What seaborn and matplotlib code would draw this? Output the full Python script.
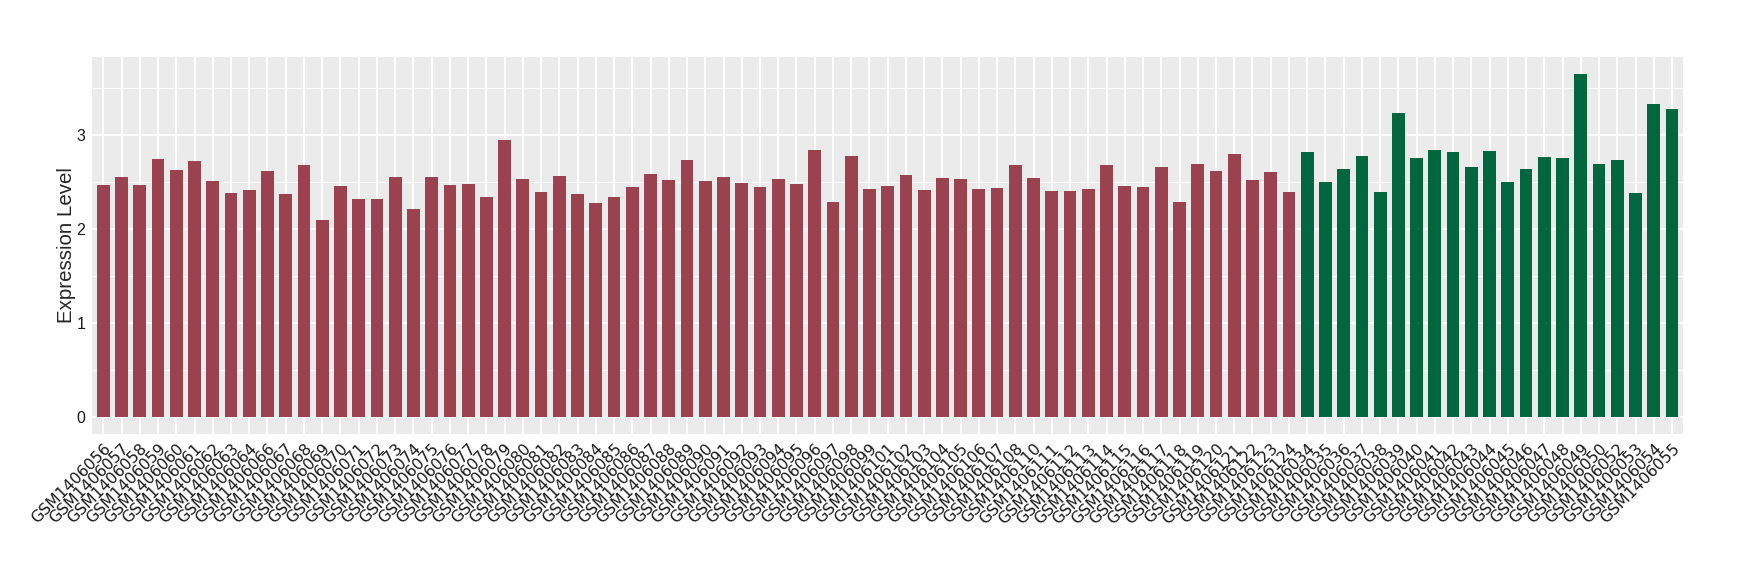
import numpy as np
import pandas as pd
import matplotlib
matplotlib.use('Agg')
import matplotlib.pyplot as plt
import seaborn as sns
from matplotlib.ticker import MultipleLocator

# sample ids, in plotting order
red_ids = ['056', '057', '058', '059', '060', '061', '062', '063', '064', '066',
           '067', '068', '069', '070', '071', '072', '073', '074', '075', '076',
           '077', '078', '079', '080', '081', '082', '083', '084', '085', '086',
           '087', '088', '089', '090', '091', '092', '093', '094', '095', '096',
           '097', '098', '099', '101', '102', '103', '104', '105', '106', '107',
           '108', '110', '111', '112', '113', '114', '115', '116', '117', '118',
           '119', '120', '121', '122', '123', '124']
green_ids = ['034', '035', '036', '037', '038', '039', '040', '041', '042', '043',
             '044', '045', '046', '047', '048', '049', '050', '052', '053', '054', '055']

red_values = [2.47, 2.56, 2.47, 2.75, 2.63, 2.73, 2.51, 2.38, 2.42, 2.62,
              2.37, 2.68, 2.10, 2.46, 2.32, 2.32, 2.56, 2.21, 2.56, 2.47,
              2.48, 2.34, 2.95, 2.53, 2.40, 2.57, 2.37, 2.28, 2.34, 2.45,
              2.59, 2.52, 2.74, 2.51, 2.56, 2.49, 2.45, 2.53, 2.48, 2.84,
              2.29, 2.78, 2.43, 2.46, 2.58, 2.42, 2.54, 2.53, 2.43, 2.44,
              2.68, 2.54, 2.41, 2.41, 2.43, 2.68, 2.46, 2.45, 2.66, 2.29,
              2.69, 2.62, 2.80, 2.52, 2.61, 2.40]
green_values = [2.82, 2.50, 2.64, 2.78, 2.40, 3.24, 2.76, 2.84, 2.82, 2.66,
                2.83, 2.50, 2.64, 2.77, 2.76, 3.655, 2.69, 2.74, 2.38, 3.335, 3.28]

group_colors = {'red': '#9B4251', 'green': '#02663F'}


def main():
    samples = ['GSM1406' + s for s in red_ids + green_ids]
    df = pd.DataFrame({
        'sample': samples,
        'expr': red_values + green_values,
        'group': ['red'] * len(red_ids) + ['green'] * len(green_ids),
    })

    sns.set_style('darkgrid')
    plt.rcParams['font.family'] = ['Liberation Sans', 'DejaVu Sans']

    fig = plt.figure(figsize=(17.4, 5.8), dpi=100)
    ax = fig.add_axes([0.0531, 0.2517, 0.9141, 0.6507])
    ax.set_facecolor('#EBEBEB')

    sns.barplot(data=df, x='sample', y='expr', hue='group', order=samples,
                palette=group_colors, dodge=False, width=0.7, legend=False,
                saturation=1, linewidth=0, ax=ax, zorder=3)

    ymax = df['expr'].max()
    ax.set_xlim(-0.6, len(samples) - 0.4)
    ax.set_ylim(-0.05 * ymax, 1.05 * ymax)
    ax.yaxis.set_major_locator(MultipleLocator(1))
    ax.yaxis.set_minor_locator(MultipleLocator(0.5))

    # ggplot-ish grid
    ax.grid(False)
    ax.set_axisbelow(True)
    ax.grid(which='major', axis='both', color='white', linewidth=1.4, zorder=0)
    ax.grid(which='minor', axis='y', color='white', linewidth=0.7, zorder=0)
    for sp in ax.spines.values():
        sp.set_visible(False)

    ax.tick_params(axis='both', which='major', length=3.2, width=0.8,
                   color='#333333', pad=2)
    ax.tick_params(axis='y', which='minor', length=0)
    ax.tick_params(axis='y', labelsize=11.5, labelcolor='#1A1A1A')

    ax.set_xticks(range(len(samples)))
    ax.set_xticklabels(samples, rotation=45, ha='right', va='top',
                       rotation_mode='anchor', fontsize=11.3,
                       family='DejaVu Sans', color='#1A1A1A')

    ax.set_xlabel('')
    ax.set_ylabel('Expression Level', fontsize=14.8, labelpad=0.5)

    fig.savefig('out.png', dpi=100)


if __name__ == '__main__':
    main()
